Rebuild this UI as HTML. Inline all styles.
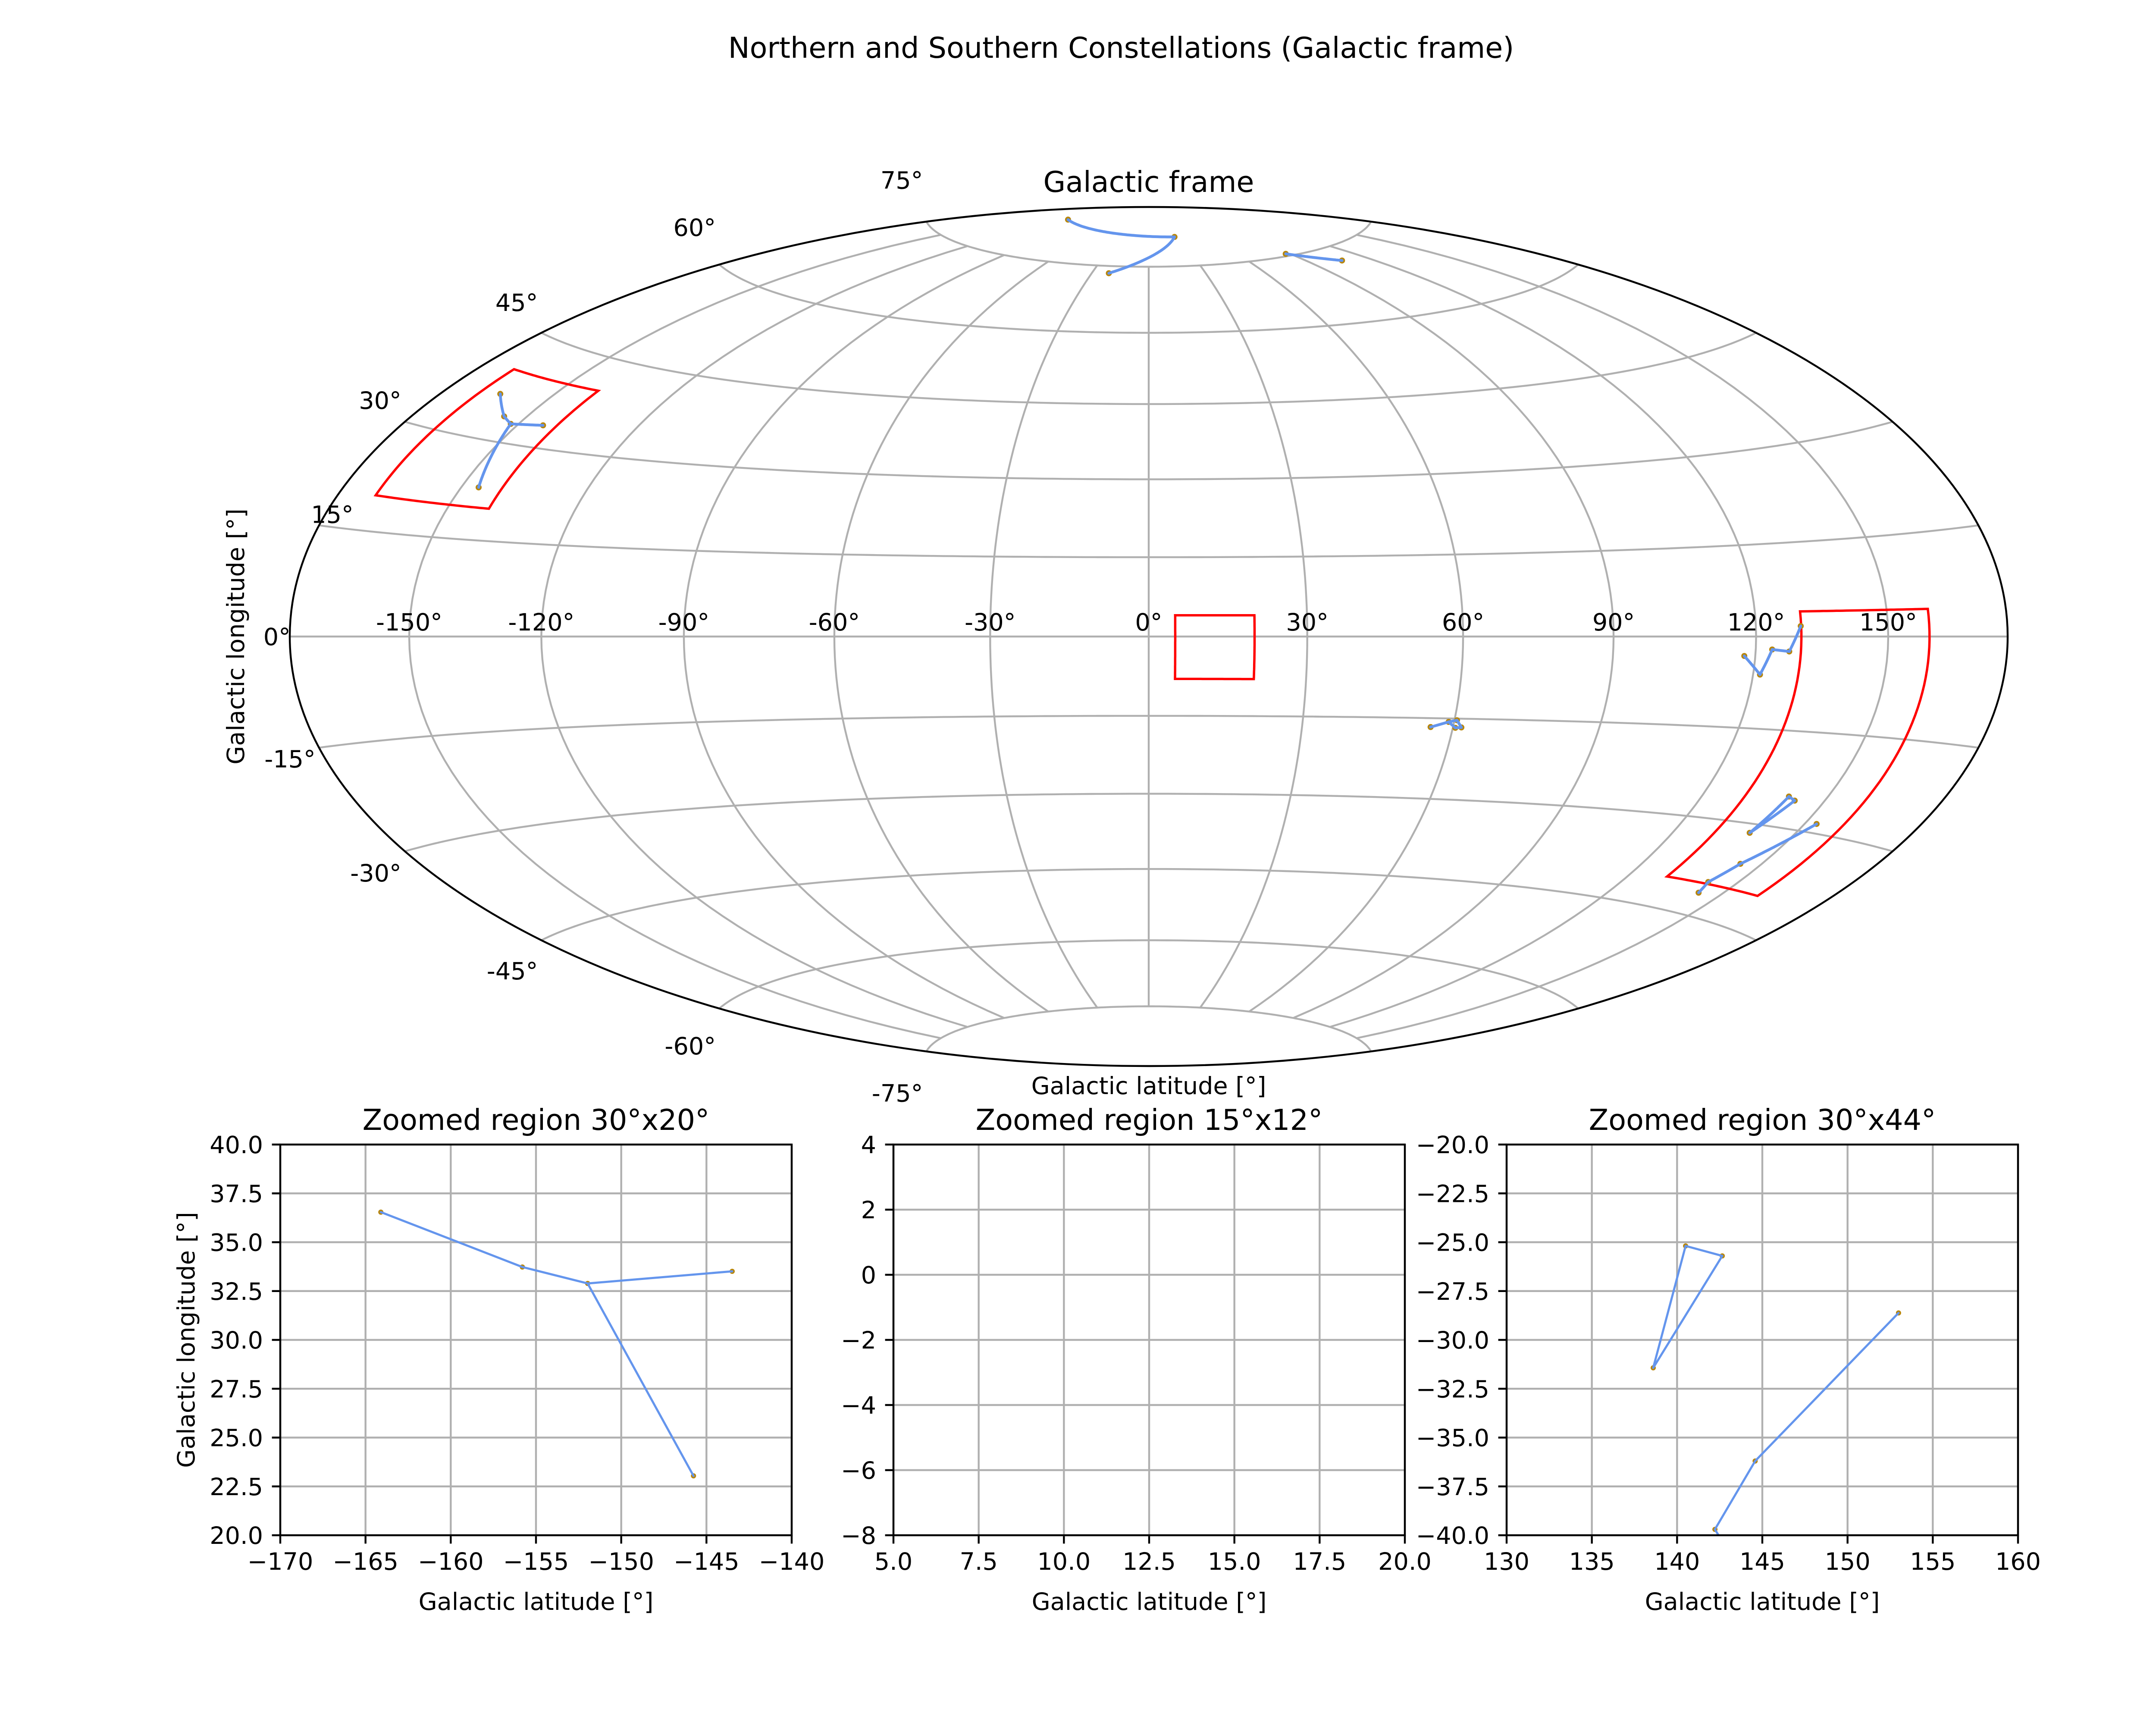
<!DOCTYPE html>
<html>
<head>
<meta charset="utf-8">
<style>
html,body{margin:0;padding:0;background:#fff;width:5200px;height:4000px;overflow:hidden;}
svg{display:block;position:absolute;left:0;top:0;}
text{font-family:"DejaVu Sans","Liberation Sans",sans-serif;fill:#000;}
</style>
</head>
<body>
<svg id="fig" xmlns="http://www.w3.org/2000/svg" width="5200" height="4000" viewBox="0 0 5200 4000">
<rect x="0" y="0" width="5200" height="4000" fill="#fff"/>
<text x="2600" y="134" font-size="66.7" text-anchor="middle">Northern and Southern Constellations (Galactic frame)</text>
<text x="2664" y="445" font-size="66.7" text-anchor="middle">Galactic frame</text>
<text x="2664" y="2537" font-size="55.6" text-anchor="middle">Galactic latitude [°]</text>
<text transform="translate(566,1476) rotate(-90)" x="0" y="0" font-size="55.6" text-anchor="middle">Galactic longitude [°]</text>
<g id="map"></g>
<g id="panels"></g>
<text x="1243" y="2620" font-size="66.7" text-anchor="middle">Zoomed region 30°x20°</text>
<text x="2665" y="2620" font-size="66.7" text-anchor="middle">Zoomed region 15°x12°</text>
<text x="4087" y="2620" font-size="66.7" text-anchor="middle">Zoomed region 30°x44°</text>
<text x="1243" y="3733" font-size="55.6" text-anchor="middle">Galactic latitude [°]</text>
<text x="2665" y="3733" font-size="55.6" text-anchor="middle">Galactic latitude [°]</text>
<text x="4087" y="3733" font-size="55.6" text-anchor="middle">Galactic latitude [°]</text>
<text transform="translate(451,3107) rotate(-90)" x="0" y="0" font-size="55.6" text-anchor="middle">Galactic longitude [°]</text>
</svg>
<script>
// ---- data (lon, lat in degrees) ----
const boxLon1 = [-170, -140];
const boxLat1 = [20, 40];
const boxLon2 = [5, 20];
const boxLat2 = [-8, 4];
const boxLon3 = [130, 160];
const boxLat3 = [-40, 4];

const starLonA = [-164.1, -155.8, -151.97, -143.49, -145.76];
const starLatA = [36.54, 33.73, 32.89, 33.51, 23.04];
const segsA = [[0,1],[1,2],[2,3],[2,4]];

const starLonB = [140.5, 142.65, 138.6];
const starLatB = [-25.19, -25.70, -31.43];
const segsB = [[0,1],[1,2],[2,0]];

const starLonC = [152.99, 144.58, 142.22, 143.5];
const starLatC = [-28.62, -36.2, -39.7, -41.5];
const segsC = [[0,1],[1,2],[2,3]];

const starLonD = [117.6, 121.5, 123.6, 127.4, 129.9];
const starLatD = [-3.2, -6.2, -2.1, -2.4, 1.67];
const segsD = [[0,1],[1,2],[2,3],[3,4]];

const starLonE = [55.5, 58.9, 60.5, 60.5, 61.7];
const starLatE = [-16.65, -15.64, -15.3, -16.7, -16.6];
const segsE = [[0,1],[1,2],[2,4],[4,3],[3,1]];

const starLonF = [-125.9, 26.9, -21.1];
const starLatF = [83.8, 82.1, 73.3];
const segsF = [[0,1],[1,2]];

const starLonG = [87.6, 106.4];
const starLatG = [75.5, 72.2];
const segsG = [[0,1]];

const mapLonTicks = [-150, -120, -90, -60, -30, 0, 30, 60, 90, 120, 150];
const mapLatTicks = [-75, -60, -45, -30, -15, 0, 15, 30, 45, 60, 75];

const p1XTicks = [-170, -165, -160, -155, -150, -145, -140];
const p1XLabels = ["\u2212170","\u2212165","\u2212160","\u2212155","\u2212150","\u2212145","\u2212140"];
const p1YTicks = [20, 22.5, 25, 27.5, 30, 32.5, 35, 37.5, 40];
const p1YLabels = ["20.0","22.5","25.0","27.5","30.0","32.5","35.0","37.5","40.0"];
const p2XTicks = [5, 7.5, 10, 12.5, 15, 17.5, 20];
const p2XLabels = ["5.0","7.5","10.0","12.5","15.0","17.5","20.0"];
const p2YTicks = [-8, -6, -4, -2, 0, 2, 4];
const p2YLabels = ["\u22128","\u22126","\u22124","\u22122","0","2","4"];
const p3XTicks = [130, 135, 140, 145, 150, 155, 160];
const p3XLabels = ["130","135","140","145","150","155","160"];
const p3YTicks = [-40, -37.5, -35, -32.5, -30, -27.5, -25, -22.5, -20];
const p3YLabels = ["\u221240.0","\u221237.5","\u221235.0","\u221232.5","\u221230.0","\u221227.5","\u221225.0","\u221222.5","\u221220.0"];

// ---- rendering ----
const NS = "http://www.w3.org/2000/svg";
const CX = 2664, CY = 1476, K = 704.3;
const BLUE = "#6495ed", GOLD = "#b8860b", GRID = "#b0b0b0";
function mk(tag, parent) { const e = document.createElementNS(NS, tag); parent.appendChild(e); return e; }
function proj(lon, lat) {
  const l = lon * Math.PI / 360, p = lat * Math.PI / 180;
  const d = Math.sqrt(1 + Math.cos(p) * Math.cos(l));
  return [CX + K * 2 * Math.SQRT2 * Math.cos(p) * Math.sin(l) / d, CY - K * Math.SQRT2 * Math.sin(p) / d];
}
function interpPath(lons, lats, n) {
  let s = "";
  for (let i = 0; i < lons.length - 1; i++) {
    for (let k = 0; k <= n; k++) {
      if (i > 0 && k === 0) continue;
      const t = k / n;
      const q = proj(lons[i] + (lons[i+1]-lons[i]) * t, lats[i] + (lats[i+1]-lats[i]) * t);
      s += (s === "" ? "M" : "L") + q[0].toFixed(1) + "," + q[1].toFixed(1);
    }
  }
  return s;
}
const map = document.getElementById("map");

// gridlines
mapLatTicks.forEach(function (lat) {
  const lons = [], lats = [];
  for (let lo = -180; lo <= 180; lo += 2) { lons.push(lo); lats.push(lat); }
  const g = mk("path", map);
  g.setAttribute("d", interpPath(lons, lats, 1));
  g.setAttribute("fill", "none"); g.setAttribute("stroke", GRID); g.setAttribute("stroke-width", "4.4");
  
  
});
mapLonTicks.forEach(function (lon) {
  const g = mk("path", map);
  g.setAttribute("d", interpPath([lon, lon], [-75, 75], 80));
  g.setAttribute("fill", "none"); g.setAttribute("stroke", GRID); g.setAttribute("stroke-width", "4.4");
  
  
});
// boundary
const bd = mk("ellipse", map);
bd.setAttribute("cx", CX); bd.setAttribute("cy", CY); bd.setAttribute("rx", 1992); bd.setAttribute("ry", 996);
bd.setAttribute("fill", "none"); bd.setAttribute("stroke", "#000"); bd.setAttribute("stroke-width", "4.4");



// tick labels
mapLonTicks.forEach(function (lon) {
  const q = proj(lon, 0);
  const t = mk("text", map);
  t.setAttribute("x", q[0].toFixed(1)); t.setAttribute("y", 1462);
  t.setAttribute("font-size", "55.6"); t.setAttribute("text-anchor", "middle");
  t.textContent = lon + "°";
  
  
});
mapLatTicks.forEach(function (lat) {
  const q = proj(-180, lat);
  const t = mk("text", map);
  const extra = (lat === 15) ? 88 : (lat === 0 ? 10 : 0);
  t.setAttribute("x", (q[0] - 8 + extra).toFixed(1));
  t.setAttribute("y", (q[1] - 100 * Math.sin(lat * Math.PI / 180) + 20).toFixed(1));
  t.setAttribute("font-size", "55.6"); t.setAttribute("text-anchor", "end");
  t.textContent = lat + "°";
  
  
});

// red boxes
[[boxLon1, boxLat1], [boxLon2, boxLat2], [boxLon3, boxLat3]].forEach(function (b) {
  const lons = [b[0][0], b[0][1], b[0][1], b[0][0], b[0][0]];
  const lats = [b[1][1], b[1][1], b[1][0], b[1][0], b[1][1]];
  const r = mk("path", map);
  r.setAttribute("d", interpPath(lons, lats, 40) + "Z");
  r.setAttribute("fill", "none"); r.setAttribute("stroke", "#ff0000"); r.setAttribute("stroke-width", "5.5");
  r.setAttribute("stroke-linejoin", "miter");
  
  
});

const constellations = [
  [starLonA, starLatA, segsA], [starLonB, starLatB, segsB], [starLonC, starLatC, segsC],
  [starLonD, starLatD, segsD], [starLonE, starLatE, segsE], [starLonF, starLatF, segsF],
  [starLonG, starLatG, segsG]
];
constellations.forEach(function (c) {
  c[0].forEach(function (lon, i) {
    const q = proj(lon, c[1][i]);
    const m = mk("circle", map);
    m.setAttribute("cx", q[0].toFixed(1)); m.setAttribute("cy", q[1].toFixed(1)); m.setAttribute("r", "7");
    m.setAttribute("fill", GOLD);
    
    
  });
  c[2].forEach(function (s) {
    const l = mk("path", map);
    l.setAttribute("d", interpPath([c[0][s[0]], c[0][s[1]]], [c[1][s[0]], c[1][s[1]]], 60));
    l.setAttribute("fill", "none"); l.setAttribute("stroke", BLUE); l.setAttribute("stroke-width", "6.5");
    l.setAttribute("stroke-linecap", "round");
    
    
  });
});

// ---- zoom panels ----
const panelsG = document.getElementById("panels");
const panelDefs = [
  {x0: 650, x1: 1836, xlim: boxLon1, ylim: boxLat1, xt: p1XTicks, xl: p1XLabels, yt: p1YTicks, yl: p1YLabels},
  {x0: 2072, x1: 3258, xlim: boxLon2, ylim: boxLat2, xt: p2XTicks, xl: p2XLabels, yt: p2YTicks, yl: p2YLabels},
  {x0: 3494, x1: 4680, xlim: [130, 160], ylim: [-40, -20], xt: p3XTicks, xl: p3XLabels, yt: p3YTicks, yl: p3YLabels}
];
const Y0 = 2654, Y1 = 3560;
panelDefs.forEach(function (P, pi) {
  const g = mk("g", panelsG);
  
  
  const sx = function (v) { return P.x0 + (v - P.xlim[0]) / (P.xlim[1] - P.xlim[0]) * (P.x1 - P.x0); };
  const sy = function (v) { return Y1 - (v - P.ylim[0]) / (P.ylim[1] - P.ylim[0]) * (Y1 - Y0); };
  const cp = mk("clipPath", g);
  cp.setAttribute("id", "clip" + pi);
  const cr = mk("rect", cp);
  cr.setAttribute("x", P.x0); cr.setAttribute("y", Y0); cr.setAttribute("width", P.x1 - P.x0); cr.setAttribute("height", Y1 - Y0);
  P.xt.forEach(function (v, i) {
    const x = sx(v);
    const gl = mk("line", g);
    gl.setAttribute("x1", x); gl.setAttribute("x2", x); gl.setAttribute("y1", Y0); gl.setAttribute("y2", Y1);
    gl.setAttribute("stroke", GRID); gl.setAttribute("stroke-width", "4.4");
    
    
    const tk = mk("line", g);
    tk.setAttribute("x1", x); tk.setAttribute("x2", x); tk.setAttribute("y1", Y1); tk.setAttribute("y2", Y1 + 19.4);
    tk.setAttribute("stroke", "#000"); tk.setAttribute("stroke-width", "4.4");
    
    
    const t = mk("text", g);
    t.setAttribute("x", x); t.setAttribute("y", 3640); t.setAttribute("font-size", "55.6"); t.setAttribute("text-anchor", "middle");
    t.textContent = P.xl[i];
    
    
  });
  P.yt.forEach(function (v, i) {
    const y = sy(v);
    const gl = mk("line", g);
    gl.setAttribute("x1", P.x0); gl.setAttribute("x2", P.x1); gl.setAttribute("y1", y); gl.setAttribute("y2", y);
    gl.setAttribute("stroke", GRID); gl.setAttribute("stroke-width", "4.4");
    
    
    const tk = mk("line", g);
    tk.setAttribute("x1", P.x0 - 19.4); tk.setAttribute("x2", P.x0); tk.setAttribute("y1", y); tk.setAttribute("y2", y);
    tk.setAttribute("stroke", "#000"); tk.setAttribute("stroke-width", "4.4");
    
    
    const t = mk("text", g);
    t.setAttribute("x", P.x0 - 40); t.setAttribute("y", y + 20); t.setAttribute("font-size", "55.6"); t.setAttribute("text-anchor", "end");
    t.textContent = P.yl[i];
    
    
  });
  const dg = mk("g", g);
  dg.setAttribute("clip-path", "url(#clip" + pi + ")");
  
  
  constellations.forEach(function (c) {
    c[0].forEach(function (lon, i) {
      const m = mk("circle", dg);
      m.setAttribute("cx", sx(lon).toFixed(1)); m.setAttribute("cy", sy(c[1][i]).toFixed(1)); m.setAttribute("r", "6");
      m.setAttribute("fill", GOLD);
      
      
    });
    c[2].forEach(function (s) {
      const l = mk("line", dg);
      l.setAttribute("x1", sx(c[0][s[0]]).toFixed(1)); l.setAttribute("y1", sy(c[1][s[0]]).toFixed(1));
      l.setAttribute("x2", sx(c[0][s[1]]).toFixed(1)); l.setAttribute("y2", sy(c[1][s[1]]).toFixed(1));
      l.setAttribute("stroke", BLUE); l.setAttribute("stroke-width", "5"); l.setAttribute("stroke-linecap", "round");
      
      
    });
  });
  const fr = mk("rect", g);
  fr.setAttribute("x", P.x0); fr.setAttribute("y", Y0); fr.setAttribute("width", P.x1 - P.x0); fr.setAttribute("height", Y1 - Y0);
  fr.setAttribute("fill", "none"); fr.setAttribute("stroke", "#000"); fr.setAttribute("stroke-width", "4.4");
  
  
});
</script>
</body>
</html>
